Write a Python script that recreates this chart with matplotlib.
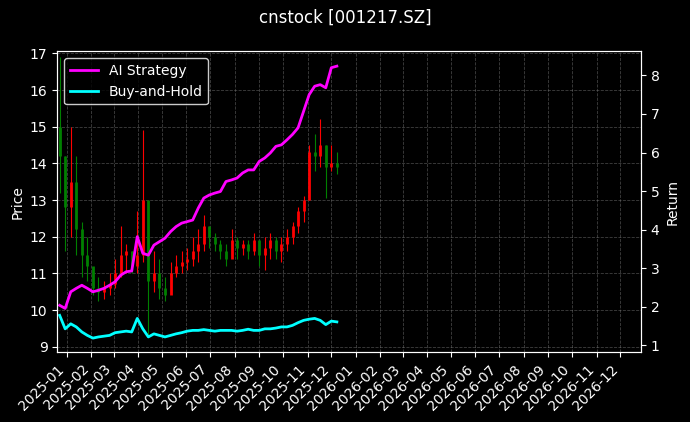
import matplotlib
matplotlib.use("Agg")
import matplotlib.pyplot as plt
import matplotlib.dates as mdates
import pandas as pd

plt.style.use("dark_background")

# weekly bars
week_start = "2024-12-23"
highs = [16.9, 14.2, 15.0, 14.2, 12.4, 12.0, 11.1, 10.9, 10.8, 11.0, 11.4, 12.3, 11.8, 11.6, 12.7,
         14.9, 12.7, 11.6, 11.4, 10.9, 11.3, 11.5, 11.6, 11.7, 12.0, 12.2, 12.6, 12.3, 12.1, 11.9,
         11.8, 12.2, 12.0, 11.9, 11.9, 12.1, 11.8, 12.0, 12.1, 12.0, 12.0, 12.2, 12.4, 12.8, 13.1,
         14.5, 14.8, 15.2, 14.5, 14.5, 14.3]
lows = [13.2, 11.6, 12.0, 11.5, 10.9, 10.8, 10.4, 10.25, 10.3, 10.4, 10.6, 10.9, 11.0, 11.0, 11.0,
        11.3, 9.35, 10.5, 10.3, 10.25, 10.7, 10.9, 11.0, 11.1, 11.2, 11.3, 11.6, 11.7, 11.6, 11.4,
        11.2, 11.5, 11.4, 11.5, 11.4, 11.5, 11.2, 11.1, 11.4, 11.4, 11.3, 11.6, 11.8, 12.1, 12.4,
        13.0, 13.8, 13.9, 13.05, 13.8, 13.7]
closes = [14.2, 12.8, 13.5, 12.2, 11.5, 11.2, 10.6, 10.5, 10.6, 10.7, 11.0, 11.5, 11.6, 11.2, 11.5,
          13.0, 10.8, 11.0, 10.6, 10.4, 11.0, 11.2, 11.3, 11.4, 11.6, 11.8, 12.3, 12.0, 11.8, 11.6,
          11.4, 11.9, 11.7, 11.8, 11.6, 11.9, 11.5, 11.7, 11.9, 11.6, 11.8, 12.0, 12.3, 12.7, 13.0,
          14.3, 14.2, 14.5, 13.9, 14.0, 13.9]
first_open = 15.0

ai_return = [2.04, 1.96, 2.39, 2.48, 2.56, 2.48, 2.39, 2.43, 2.48, 2.56, 2.65, 2.82, 2.91, 2.93, 3.82,
             3.39, 3.34, 3.60, 3.69, 3.78, 3.95, 4.08, 4.17, 4.21, 4.25, 4.56, 4.82, 4.90, 4.95, 4.99,
             5.25, 5.29, 5.34, 5.47, 5.55, 5.55, 5.77, 5.86, 5.99, 6.16, 6.20, 6.33, 6.47, 6.64, 7.07,
             7.50, 7.72, 7.76, 7.68, 8.20, 8.24]
bh_return = [1.78, 1.43, 1.56, 1.48, 1.35, 1.26, 1.19, 1.22, 1.24, 1.26, 1.33, 1.35, 1.37, 1.35, 1.70,
             1.43, 1.22, 1.30, 1.26, 1.22, 1.26, 1.30, 1.33, 1.37, 1.39, 1.39, 1.41, 1.39, 1.37, 1.39,
             1.39, 1.39, 1.37, 1.39, 1.42, 1.39, 1.39, 1.43, 1.43, 1.45, 1.48, 1.48, 1.52, 1.59, 1.65,
             1.68, 1.70, 1.65, 1.54, 1.63, 1.61]

dates = pd.date_range(week_start, periods=len(closes), freq="W-MON")
opens = [first_open] + closes[:-1]

fig, ax = plt.subplots(figsize=(6.9, 4.22), dpi=100)
fig.patch.set_facecolor("black")
ax.set_facecolor("black")

for d, o, h, l, c in zip(dates, opens, highs, lows, closes):
    col = "red" if c >= o else "green"
    ax.vlines(d, l, h, color=col, linewidth=0.8)
    ax.vlines(d, min(o, c), max(o, c), color=col, linewidth=2.0)

ax.set_ylabel("Price")
ax.set_ylim(8.85, 17.05)
ax.set_xlim(pd.Timestamp("2024-12-20"), pd.Timestamp("2026-12-27"))
ax.xaxis.set_major_locator(mdates.MonthLocator())
ax.xaxis.set_major_formatter(mdates.DateFormatter("%Y-%m"))
plt.setp(ax.get_xticklabels(), rotation=45, ha="right")
ax.grid(True, linestyle="--", color="gray", alpha=0.5, linewidth=0.6)

ax2 = ax.twinx()
ax2.plot(dates, ai_return, color="magenta", linewidth=2, label="AI Strategy")
ax2.plot(dates, bh_return, color="cyan", linewidth=2, label="Buy-and-Hold")
ax2.set_ylabel("Return")
ax2.set_ylim(0.82, 8.62)
ax2.legend(loc="upper left", facecolor="black", edgecolor="white")

fig.suptitle("cnstock [001217.SZ]")
fig.subplots_adjust(left=0.083, right=0.929, top=0.878, bottom=0.165)
fig.savefig("out.png", dpi=100)
